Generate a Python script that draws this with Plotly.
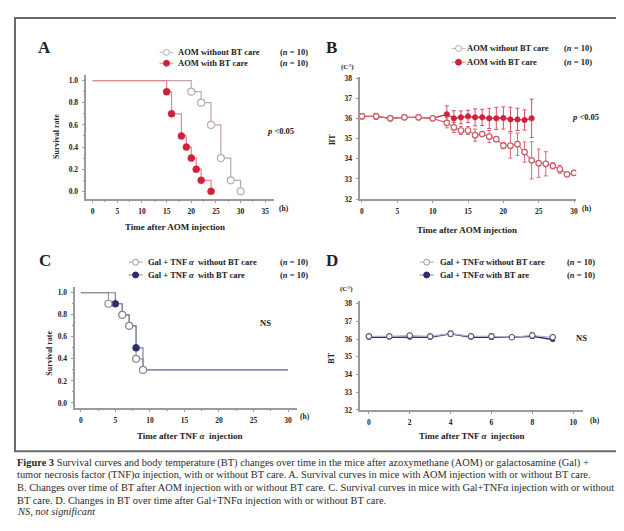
import plotly.graph_objects as go

W, H = 624, 531

# ---------------- DATA ----------------
# Panel A: survival after AOM (Kaplan-Meier events)
a_start_time, a_start_surv = 0, 1.0
a_wo_t = [20, 22, 24, 26, 28, 30]
a_wo_s = [0.9, 0.8, 0.6, 0.3, 0.1, 0.0]
a_w_t = [15, 16, 18, 19, 20, 21, 22, 24]
a_w_s = [0.9, 0.7, 0.5, 0.4, 0.3, 0.2, 0.1, 0.0]

# Panel B: BT after AOM
b_wo_t = [0, 2, 4, 6, 8, 10, 12, 13, 14, 15, 16, 17, 18, 19, 20, 21, 22, 23, 24, 25, 26, 27, 28, 29, 30]
b_wo_v = [36.1, 36.1, 36.0, 36.05, 36.05, 36.0, 35.78, 35.55, 35.4, 35.4, 35.17, 35.22, 35.1, 34.97,
          34.65, 34.65, 34.72, 34.33, 33.92, 33.78, 33.75, 33.65, 33.48, 33.23, 33.3]
b_wo_e = [0.12, 0.15, 0.12, 0.1, 0.12, 0.08, 0.25, 0.25, 0.2, 0.2, 0.3, 0.1, 0.3, 0.1,
          0.15, 0.62, 0.55, 0.5, 0.92, 0.7, 0.6, 0.15, 0.2, 0.06, 0.06]
b_w_t = [0, 2, 4, 6, 8, 10, 12, 13, 14, 15, 16, 17, 18, 19, 20, 21, 22, 23, 24]
b_w_v = [36.1, 36.1, 36.0, 36.05, 36.05, 36.0, 36.2, 36.0, 36.05, 36.1, 36.05, 36.05, 36.0, 36.0,
         36.02, 35.95, 35.95, 35.92, 36.0]
b_w_e = [0.08, 0.12, 0.1, 0.08, 0.1, 0.06, 0.42, 0.38, 0.32, 0.3, 0.42, 0.4, 0.5, 0.55,
         0.55, 0.6, 0.55, 0.5, 0.95]

# Panel C: survival after Gal + TNF alpha
c_start_time, c_start_surv, c_end_time = 0, 1.0, 30
c_wo_t = [4, 6, 7, 8, 9]
c_wo_s = [0.9, 0.8, 0.7, 0.4, 0.3]
c_w_t = [5, 6, 7, 8, 9]
c_w_s = [0.9, 0.8, 0.7, 0.5, 0.3]

# Panel D: BT after Gal + TNF alpha
d_t = [0, 1, 2, 3, 4, 5, 6, 7, 8, 9]
d_wo_v = [36.15, 36.15, 36.2, 36.15, 36.3, 36.15, 36.15, 36.1, 36.2, 36.1]
d_wo_e = [0.08, 0.1, 0.12, 0.1, 0.15, 0.12, 0.15, 0.08, 0.15, 0.12]
d_w_v = [36.1, 36.12, 36.1, 36.1, 36.3, 36.1, 36.1, 36.1, 36.15, 35.97]
d_w_e = [0.06, 0.06, 0.08, 0.06, 0.12, 0.06, 0.12, 0.05, 0.12, 0.06]

surv_ticks = [0.0, 0.2, 0.4, 0.6, 0.8, 1.0]
bt_ticks = [32, 33, 34, 35, 36, 37, 38]
a_xticks = [0, 5, 10, 15, 20, 25, 30, 35]
b_xticks = [0, 5, 10, 15, 20, 25, 30]
c_xticks = [0, 5, 10, 15, 20, 25, 30]
d_xticks = [0, 2, 4, 6, 8, 10]

# ---------------- STYLE ----------------
SERIF = "Liberation Serif"
RED = "#d1213a"
RED_LINE = "#e3868f"
RED_GREY = "#c9a4a6"
NAVY = "#2d2d6e"
NAVY_LINE = "#7c80aa"
GREY = "#9a9a9a"
AX = "#9a9a9a"


def X(px):
    return px / W


def Y(py):
    return 1 - py / H


fig = go.Figure()

# ---- Panel A ----
fig.add_trace(go.Scatter(x=[a_start_time] + a_wo_t, y=[a_start_surv] + a_wo_s, mode="lines",
                         line=dict(shape="hv", color=RED_GREY, width=1.2), xaxis="x", yaxis="y"))
fig.add_trace(go.Scatter(x=[a_start_time] + a_w_t, y=[a_start_surv] + a_w_s, mode="lines",
                         line=dict(shape="hv", color=RED_LINE, width=1.2), xaxis="x", yaxis="y"))
fig.add_trace(go.Scatter(x=a_wo_t, y=a_wo_s, mode="markers", xaxis="x", yaxis="y",
                         marker=dict(size=7, color="white", line=dict(color="#b0b0b0", width=1.2))))
fig.add_trace(go.Scatter(x=a_w_t, y=a_w_s, mode="markers", xaxis="x", yaxis="y",
                         marker=dict(size=7, color=RED, line=dict(color=RED, width=0.5))))

# ---- Panel B ----
fig.add_trace(go.Scatter(x=b_w_t, y=b_w_v, mode="lines+markers", xaxis="x2", yaxis="y2",
                         line=dict(color=RED, width=1.2),
                         marker=dict(size=5.5, color=RED, line=dict(color=RED, width=0.5)),
                         error_y=dict(type="data", array=b_w_e, color="#d8505e", thickness=1, width=2)))
fig.add_trace(go.Scatter(x=b_wo_t, y=b_wo_v, mode="lines+markers", xaxis="x2", yaxis="y2",
                         line=dict(color="#d86a74", width=1.2),
                         marker=dict(size=5.5, color="white", line=dict(color="#cf5a66", width=1.2)),
                         error_y=dict(type="data", array=b_wo_e, color="#d86a74", thickness=1, width=2)))

# ---- Panel C ----
fig.add_trace(go.Scatter(x=[c_start_time] + c_wo_t + [c_end_time], y=[c_start_surv] + c_wo_s + [c_wo_s[-1]],
                         mode="lines", line=dict(shape="hv", color=GREY, width=1.2), xaxis="x3", yaxis="y3"))
fig.add_trace(go.Scatter(x=[c_start_time] + c_w_t + [c_end_time], y=[c_start_surv] + c_w_s + [c_w_s[-1]],
                         mode="lines", line=dict(shape="hv", color=NAVY_LINE, width=1.2), xaxis="x3", yaxis="y3"))
fig.add_trace(go.Scatter(x=c_w_t, y=c_w_s, mode="markers", xaxis="x3", yaxis="y3",
                         marker=dict(size=7, color=NAVY, line=dict(color=NAVY, width=0.5))))
fig.add_trace(go.Scatter(x=c_wo_t, y=c_wo_s, mode="markers", xaxis="x3", yaxis="y3",
                         marker=dict(size=7, color="white", line=dict(color="#8a8a8a", width=1.2))))

# ---- Panel D ----
fig.add_trace(go.Scatter(x=d_t, y=d_w_v, mode="lines+markers", xaxis="x4", yaxis="y4",
                         line=dict(color=NAVY, width=1.5),
                         marker=dict(size=5, color=NAVY),
                         error_y=dict(type="data", array=d_w_e, color="#444466", thickness=1, width=2)))
fig.add_trace(go.Scatter(x=d_t, y=d_wo_v, mode="lines+markers", xaxis="x4", yaxis="y4",
                         line=dict(color="#aab0d4", width=1.2),
                         marker=dict(size=5.5, color="white", line=dict(color="#555566", width=1.1)),
                         error_y=dict(type="data", array=d_wo_e, color="#555566", thickness=1, width=2)))

tickfont = dict(family=SERIF, size=7.5, color="#222", weight="bold")


def xax(dom, rng, tickvals, anchor, minor=None):
    d = dict(domain=[X(dom[0]), X(dom[1])], range=rng, tickvals=tickvals, anchor=anchor,
             showline=True, linecolor=AX, linewidth=1.5, ticks="outside", ticklen=2.5,
             tickcolor=AX, tickwidth=1, showgrid=False, zeroline=False, tickfont=tickfont, ticklabelstandoff=2)
    if minor:
        d["minor"] = dict(dtick=minor, ticks="outside", ticklen=1.5, tickcolor=AX, showgrid=False)
    return d


def yax(dom, rng, tickvals, anchor, fmt=None, minor=None):
    d = dict(domain=[Y(dom[1]), Y(dom[0])], range=rng, tickvals=tickvals, anchor=anchor,
             showline=True, linecolor=AX, linewidth=1.5, ticks="outside", ticklen=2.5,
             tickcolor=AX, tickwidth=1, showgrid=False, zeroline=False, tickfont=tickfont, ticklabelstandoff=2)
    if fmt:
        d["tickformat"] = fmt
    if minor:
        d["minor"] = dict(dtick=minor, ticks="outside", ticklen=1.5, tickcolor=AX, showgrid=False)
    return d


fig.update_layout(
    width=W, height=H, margin=dict(l=0, r=0, t=0, b=0),
    paper_bgcolor="white", plot_bgcolor="white", showlegend=False,
    xaxis=xax((78, 267), [-1.4, 36.8], a_xticks, "y", minor=2.5),
    yaxis=yax((65, 191), [-0.07, 1.05], surv_ticks, "x", fmt=".1f", minor=0.1),
    xaxis2=xax((353, 570), [-0.3, 30.3], b_xticks, "y2"),
    yaxis2=yax((67, 191), [32, 38.05], bt_ticks, "x2"),
    xaxis3=xax((67, 290), [-0.87, 31.3], c_xticks, "y3", minor=2.5),
    yaxis3=yax((280, 403), [-0.045, 1.054], surv_ticks, "x3", fmt=".1f", minor=0.1),
    xaxis4=xax((353, 577), [-0.44, 10.49], d_xticks, "y4"),
    yaxis4=yax((294, 405), [32, 38.17], bt_ticks, "x4"),
)

ann = []


def text(px, py, s, size=8.5, xanchor="center", yanchor="middle", bold=True, angle=0, color="#222"):
    ann.append(dict(x=X(px), y=Y(py), xref="paper", yref="paper", text=s, showarrow=False,
                    xanchor=xanchor, yanchor=yanchor, textangle=angle, borderpad=0,
                    font=dict(family=SERIF, size=size, color=color, weight="bold" if bold else "normal")))


# panel letters
text(37, 37, "A", size=17)
text(325, 37, "B", size=17)
text(37, 253, "C", size=17)
text(325, 253, "D", size=17)

# axis titles
text(168, 219, "Time after AOM injection", size=9)
text(460, 222, "Time after AOM injection", size=9)
text(182, 431, "Time after TNF <i>α</i>  injection", size=9)
text(465, 432, "Time after TNF <i>α</i>  injection", size=9)
text(48, 127, "Survival rate", size=8, angle=-90)
text(42, 347, "Survival rate", size=8, angle=-90)
text(325, 130, "BT", size=8, angle=-90)
text(325, 352, "BT", size=8, angle=-90)

# units
text(277, 201, "(h)", size=7.5)
text(581, 201, "(h)", size=7.5)
text(298, 412, "(h)", size=7.5)
text(589, 416, "(h)", size=7.5)
text(341, 57, "(C°)", size=7)
text(340, 282, "(C°)", size=7)

# significance
text(273, 122, "<i>p</i> <0.05", size=8.5)
text(579, 108, "<i>p</i> <0.05", size=8.5)
text(258, 317, "NS", size=8.5)
text(575, 332, "NS", size=8.5)

shapes = []


def legend_row(cx, y0, x_text, x_right, label, filled_color, outline, line_color):
    shapes.append(dict(type="line", xref="paper", yref="paper", x0=X(cx - 7), x1=X(cx + 7), y0=Y(y0), y1=Y(y0),
                       line=dict(color=line_color, width=1)))
    r = 3
    shapes.append(dict(type="circle", xref="paper", yref="paper", x0=X(cx - r), x1=X(cx + r),
                       y0=Y(y0 + r), y1=Y(y0 - r), fillcolor=filled_color, line=dict(color=outline, width=1)))
    text(x_text, y0, label, size=8.5, xanchor="left")
    text(x_right, y0, "(<i>n</i> = 10)", size=8.5, xanchor="right")


legend_row(159, 42, 170, 302, "AOM without BT care", "white", "#aaaaaa", "#bbbbbb")
legend_row(159, 53, 170, 302, "AOM with BT care", RED, RED, RED_LINE)
legend_row(452, 38, 459, 587, "AOM without BT care", "white", "#aaaaaa", "#bbbbbb")
legend_row(452, 52, 459, 587, "AOM with BT care", RED, RED, RED_LINE)
legend_row(128, 255, 139, 302, "Gal + TNF <i>α</i>  without BT care", "white", "#999999", "#aaaaaa")
legend_row(128, 268, 139, 302, "Gal + TNF <i>α</i>  with BT care", NAVY, NAVY, NAVY_LINE)
legend_row(420, 255, 432, 590, "Gal + TNF<i>α</i> without BT care", "white", "#999999", "#aaaaaa")
legend_row(420, 268, 432, 590, "Gal + TNF<i>α</i> with BT are", NAVY, NAVY, NAVY_LINE)

# frame
shapes.append(dict(type="rect", xref="paper", yref="paper", x0=X(7), x1=X(618), y0=Y(447), y1=Y(7),
                   line=dict(color="#6a6a6a", width=2)))

# caption
cap_lines = [
    "<b>Figure 3</b> Survival curves and body temperature (BT) changes over time in the mice after azoxymethane (AOM) or galactosamine (Gal) +",
    "tumor necrosis factor (TNF)α injection, with or without BT care. A. Survival curves in mice with AOM injection with or without BT care.",
    "B. Changes over time of BT after AOM injection with or without BT care. C. Survival curves in mice with Gal+TNFα injection with or without",
    "BT care. D. Changes in BT over time after Gal+TNFα injection with or without BT care.",
    "<i>NS, not significant</i>",
]
cap_y = [459, 471.5, 484, 496.5, 508.5]
for s, yy in zip(cap_lines, cap_y):
    text(8, yy, s, size=10.4, xanchor="left", bold=False, color="#2a2a2a")

fig.update_layout(annotations=ann, shapes=shapes)
fig.write_html("out.html")
